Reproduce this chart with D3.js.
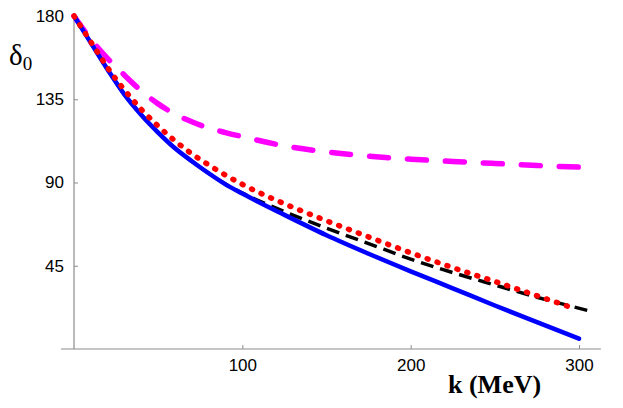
<!DOCTYPE html>
<html>
<head>
<meta charset="utf-8">
<script src="https://cdn.jsdelivr.net/npm/d3@7"></script>
<style>
  body { margin: 0; background: #fff; }
  svg { display: block; }
</style>
</head>
<body>
<svg class="chart" width="623" height="408"></svg>
<script>
// Values (k in MeV, phase shift in degrees)
const blueK   = [0, 10, 20, 30, 40, 50, 60, 70, 80, 90, 100, 125, 150, 175, 200, 225, 250, 275, 300];
const blueD   = [180, 165.5, 151, 137.5, 126.5, 117, 108.5, 101.5, 95, 89, 84, 72.5, 61.5, 51.5, 42, 32.8, 23.5, 14.5, 5.6];

const redK    = [0, 10, 20, 30, 40, 50, 60, 70, 80, 90, 100, 125, 150, 175, 200, 225, 250, 275, 297];
const redD    = [180, 166, 152, 140, 129.5, 120.5, 112.5, 105.5, 99.5, 94, 89, 78.5, 69.3, 60.6, 52, 44, 36.5, 28.8, 22];

const blackK  = [0, 10, 20, 30, 40, 50, 60, 70, 80, 90, 100, 125, 150, 175, 200, 225, 250, 275, 306.6];
const blackD  = [180, 165.5, 151, 137.5, 126.5, 117, 108.5, 101.5, 95, 89.2, 84.3, 74.3, 65.3, 57, 48.6, 41.3, 34.6, 28, 20.5];

const magK    = [0, 10, 20, 30, 40, 50, 60, 70, 80, 90, 100, 125, 150, 175, 200, 225, 250, 275, 300];
const magD    = [180, 167.5, 157, 148, 139.5, 132.5, 127, 122.8, 119.5, 117, 114.8, 109.8, 106.5, 104.2, 102.6, 101.4, 100.3, 99.2, 98.3];

const xTicks = [100, 200, 300];
const yTicks = [45, 90, 135, 180];

const svg = d3.select('.chart');

// scales
const xScale = d3.scaleLinear().domain([0, 300]).range([74, 579]);
const yScale = d3.scaleLinear().domain([0, 180]).range([349, 16]);

const axisColor = '#8c8c8c';

// x axis (line runs a bit past both ends, ticks point up)
const xAxis = svg.append('g')
    .attr('transform', `translate(0,${yScale(0)})`)
    .call(d3.axisBottom(xScale).tickValues(xTicks).tickSizeInner(-4).tickSizeOuter(0).tickPadding(10));
xAxis.select('.domain').remove();
xAxis.selectAll('line').attr('stroke', axisColor);
xAxis.selectAll('text')
    .attr('font-family', 'Liberation Sans, Arial, sans-serif')
    .attr('font-size', 17)
    .attr('fill', '#000');
xAxis.append('line')
    .attr('x1', xScale(-7.7)).attr('x2', xScale(313))
    .attr('y1', 0).attr('y2', 0)
    .attr('stroke', axisColor).attr('stroke-width', 1.2);

// y axis (ticks point right)
const yAxis = svg.append('g')
    .attr('transform', `translate(${xScale(0)},0)`)
    .call(d3.axisLeft(yScale).tickValues(yTicks).tickSizeInner(-4).tickSizeOuter(0).tickPadding(10));
yAxis.select('.domain').remove();
yAxis.selectAll('line').attr('stroke', axisColor);
yAxis.selectAll('text')
    .attr('font-family', 'Liberation Sans, Arial, sans-serif')
    .attr('font-size', 17)
    .attr('fill', '#000');
yAxis.append('line')
    .attr('x1', 0).attr('x2', 0)
    .attr('y1', yScale(180)).attr('y2', yScale(0))
    .attr('stroke', axisColor).attr('stroke-width', 1.2);

// curves, drawn back to front
const series = [
    {k: magK,   d: magD,   color: '#ff00ff', width: 5.5, dash: '19 19', cap: 'round'},
    {k: blackK, d: blackD, color: '#000000', width: 3.5, dash: '13 7',  cap: 'butt'},
    {k: blueK,  d: blueD,  color: '#0000ff', width: 4.5, dash: null,    cap: 'round'},
    {k: redK,   d: redD,   color: '#ff0000', width: 5.5, dash: '1 9.5', cap: 'round'}
];

const line = d3.line()
    .x((p) => xScale(p[0]))
    .y((p) => yScale(p[1]))
    .curve(d3.curveMonotoneX);

svg.append('g').selectAll('path')
    .data(series)
    .enter()
    .append('path')
    .attr('fill', 'none')
    .attr('stroke', (s) => s.color)
    .attr('stroke-width', (s) => s.width)
    .attr('stroke-linecap', (s) => s.cap)
    .attr('stroke-dasharray', (s) => s.dash)
    .attr('d', (s) => line(s.k.map((k, i) => [k, s.d[i]])));

// axis titles
svg.append('text')
    .attr('x', 448).attr('y', 393)
    .attr('font-family', 'Liberation Serif, Times New Roman, serif')
    .attr('font-weight', 'bold')
    .attr('font-size', 26)
    .text('k (MeV)');

const dl = svg.append('text')
    .attr('x', 9).attr('y', 65)
    .attr('font-family', 'Liberation Serif, Times New Roman, serif')
    .attr('font-size', 29);
dl.append('tspan').text('δ');
dl.append('tspan').attr('font-size', 19).attr('dy', 5).text('0');
</script>
</body>
</html>
